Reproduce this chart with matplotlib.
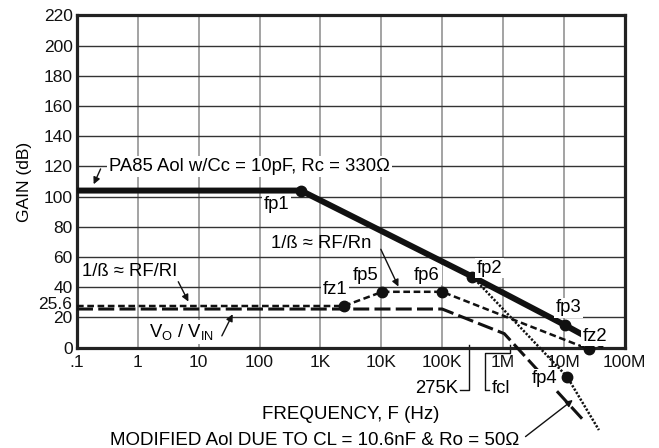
import matplotlib
matplotlib.use("Agg")
import matplotlib.pyplot as plt

plt.rcParams['font.family'] = ['Liberation Sans', 'DejaVu Sans']
plt.rcParams['lines.scale_dashes'] = False

# axes
freqTicks = [0.1, 1, 10, 100, 1e3, 1e4, 1e5, 1e6, 1e7, 1e8]
freqLabels = [".1", "1", "10", "100", "1K", "10K", "100K", "1M", "10M", "100M"]
gainTicks = [0, 20, 40, 60, 80, 100, 120, 140, 160, 180, 200, 220]
gainLabels = ["0", "20", "40", "60", "80", "100", "120", "140", "160", "180", "200", "220"]
gainGrid = [20, 40, 60, 80, 100, 120, 140, 160, 180, 200]
gainBoucle = 25.6

# PA85 Aol (trait épais)
aolF = [0.1, 478, 314e3, 10.6e6, 45e6]
aolG = [104, 104, 47, 14.8, 1.0]

# 1/beta ~ RF/RI puis RF/Rn
betaF = [0.1, 2.43e3, 10.4e3, 100e3, 25.7e6]
betaG = [27.6, 27.6, 37, 37, -1]

# Vo / Vin
vovF = [0.1, 100e3, 1.05e6, 21e6]
vovG = [25.6, 25.6, 9.3, -48]

# Aol modifié par CL
modF = [314e3, 11.3e6, 37.7e6]
modG = [47, -19.2, -54.5]

# points remarquables
ptNoms = ["fp1", "fp2", "fp3", "fz2", "fz1", "fp5", "fp6", "fp4"]
ptF = [478, 314e3, 10.6e6, 25.7e6, 2.43e3, 10.4e3, 100e3, 11.3e6]
ptG = [103.9, 47, 14.8, -1, 27.6, 37, 37, -19.2]


fig = plt.figure(figsize=(6.59, 4.48), dpi=100)
ax = fig.add_axes([77 / 659, 1 - 347.7 / 448, (624.7 - 77) / 659, (347.7 - 15.3) / 448])

ax.set_xscale('log')
ax.set_xlim(0.1, 1e8)
ax.set_ylim(0, 220)

for f in freqTicks[1:-1]:
	ax.axvline(f, color="#8a8a8a", lw=1.1, zorder=1)
for g in gainGrid:
	ax.axhline(g, color="#333333", lw=1.0, zorder=1)

ax.set_xticks(freqTicks)
ax.set_xticklabels(freqLabels)
ax.set_yticks(gainTicks)
ax.set_yticklabels(gainLabels)
ax.minorticks_off()
ax.tick_params(length=0, labelsize=12.5, colors="#111111")
ax.tick_params(axis='x', pad=5.5)
ax.tick_params(axis='y', pad=3)

# étiquette 25.6 un peu remontée comme sur l'original
ax.annotate(f"{gainBoucle}", xy=(0.1, gainBoucle), xytext=(-3.6, 3), textcoords='offset points',
	ha="right", va="center", fontsize=12.5, color="#111111", annotation_clip=False)

for s in ax.spines.values():
	s.set_linewidth(2.3)
	s.set_color("#222222")

ax.plot(aolF, aolG, color="#111111", lw=4.3, solid_capstyle='butt', zorder=5, clip_on=False)
ax.plot(betaF, betaG, color="#111111", lw=1.8, dashes=(4.8, 2.6), zorder=4, clip_on=False)
ax.plot(vovF, vovG, color="#111111", lw=2.2, dashes=(11.5, 3.8), zorder=4, clip_on=False)
ax.plot(modF, modG, color="#111111", lw=1.8, dashes=(1.6, 1.2), zorder=4, clip_on=False)
ax.plot(ptF, ptG, 'o', color="#111111", ms=7.5, zorder=6, clip_on=False)

fs = 13.3
fond = dict(boxstyle="square,pad=0.1", fc="white", ec="none")
fleche = dict(arrowstyle="-|>", color="#111111", lw=1, mutation_scale=10)

ax.text(0.34, 120, "PA85 Aol w/Cc = 10pF, Rc = 330\u03a9", fontsize=fs, ha="left", va="center", bbox=fond, zorder=7)
ax.annotate("", xy=(0.18, 106.5), xytext=(0.255, 120), arrowprops=fleche, zorder=7)

ax.text(153, 69, "1/\u00df \u2248 RF/Rn", fontsize=fs, ha="left", va="center", zorder=7)
ax.annotate("", xy=(20e3, 38.8), xytext=(9.4e3, 66.8), arrowprops=fleche, zorder=7)

ax.text(0.12, 50.3, "1/\u00df \u2248 RF/RI", fontsize=fs, ha="left", va="center", zorder=7)
ax.annotate("", xy=(7.1, 28.9), xytext=(4.4, 45.3), arrowprops=fleche, zorder=7)

ax.text(1.5, 10.6, "V$_\\mathregular{O}$ / V$_\\mathregular{IN}$", fontsize=fs, ha="left", va="center", bbox=fond, zorder=7)
ax.annotate("", xy=(37.9, 23.8), xytext=(22.9, 6.2), arrowprops=fleche, zorder=7)

# étiquettes des points
etiqF = [192, 594e3, 12.05e6, 33.1e6, 1.74e3, 5.44e3, 56.3e3, 4.8e6]
etiqG = [95.1, 52.7, 26.3, 7.7, 38.8, 48.1, 48.1, -20.7]
for i in range(len(ptNoms)):
	ax.text(etiqF[i], etiqG[i], ptNoms[i], fontsize=fs, ha="center", va="center", bbox=fond, zorder=7, clip_on=False)

# repères 275K et fcl
ax.plot([275e3, 275e3, 196e3], [2, -28.2, -28.2], color="#111111", lw=1, clip_on=False)
ax.text(184e3, -26.7, "275K", fontsize=fs, ha="right", va="center")
ax.plot([1.31e6, 1.31e6, 507e3, 507e3, 600e3], [2, -3.5, -3.5, -28.2, -28.2], color="#111111", lw=1, clip_on=False)
ax.text(653e3, -26.7, "fcl", fontsize=fs, ha="left", va="center")

fig.text(25 / 659, 1 - 181.5 / 448, "GAIN (dB)", fontsize=12.5, rotation=90, ha="center", va="center")
fig.text(351 / 659, 1 - 414 / 448, "FREQUENCY, F (Hz)", fontsize=13.5, ha="center", va="center")
fig.text(110 / 659, 1 - 440 / 448, "MODIFIED Aol DUE TO CL = 10.6nF & Ro = 50\u03a9", fontsize=13.5, ha="left", va="center")
fig.add_artist(matplotlib.patches.FancyArrowPatch((523.3 / 659, 1 - 438.3 / 448), (575 / 659, 1 - 398.3 / 448),
	transform=fig.transFigure, arrowstyle="-|>", color="#111111", lw=1, mutation_scale=10))

fig.savefig("out.png", dpi=100)
